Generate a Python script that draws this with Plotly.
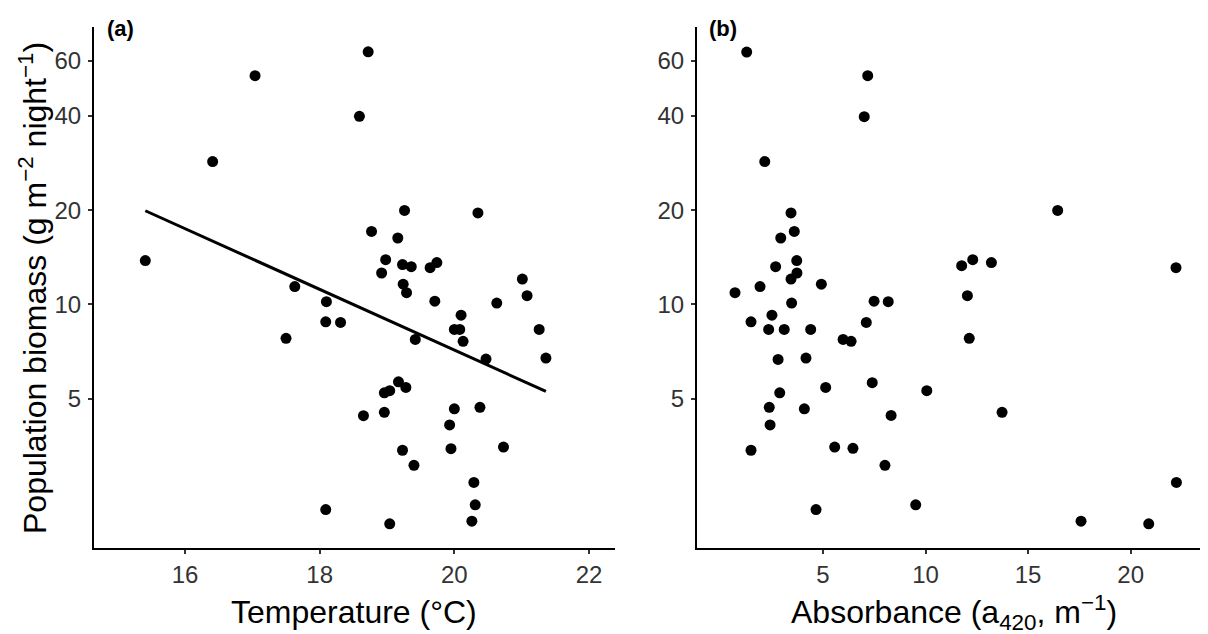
import plotly.graph_objects as go
from plotly.subplots import make_subplots

# ---- data ----
temperature = [15.41, 16.41, 17.04, 17.63, 17.50, 18.72, 18.59, 19.26, 20.35, 18.77,
               19.16, 18.98, 19.23, 19.36, 19.64, 19.74, 18.92, 21.01, 21.08, 19.24,
               19.29, 18.10, 19.71, 20.63, 20.10, 18.09, 18.31, 20.00, 20.08, 21.26,
               19.42, 20.13, 20.47, 21.36, 19.17, 19.28, 18.96, 19.04, 20.00, 20.38,
               18.65, 18.96, 19.93, 19.95, 20.73, 19.23, 19.40, 20.29, 20.31, 18.09,
               20.26, 19.04]
biomass_a = [13.8, 28.6, 53.8, 11.4, 7.79, 64.1, 39.9, 19.97, 19.6, 17.1,
             16.3, 13.9, 13.4, 13.2, 13.1, 13.6, 12.6, 12.05, 10.66, 11.6,
             10.9, 10.2, 10.24, 10.1, 9.24, 8.80, 8.76, 8.32, 8.32, 8.32,
             7.73, 7.62, 6.69, 6.74, 5.66, 5.43, 5.22, 5.30, 4.64, 4.69,
             4.41, 4.52, 4.12, 3.46, 3.50, 3.42, 3.06, 2.70, 2.29, 2.21,
             2.03, 1.99]

absorbance = [1.28, 7.18, 7.01, 2.16, 3.44, 3.60, 2.94, 3.72, 2.69, 3.73,
              3.44, 4.92, 0.71, 1.93, 3.47, 7.49, 8.18, 1.49, 2.51, 2.35,
              3.11, 4.40, 7.11, 5.98, 6.37, 2.81, 4.17, 7.40, 5.13, 2.89,
              2.38, 4.09, 8.32, 2.42, 1.49, 5.57, 6.46, 8.02, 4.66, 9.52,
              16.44, 11.76, 12.30, 13.21, 22.21, 12.04, 12.13, 10.06, 13.73, 22.23,
              17.58, 20.88]
biomass_b = [64.0, 53.8, 39.8, 28.6, 19.6, 17.1, 16.3, 13.8, 13.2, 12.6,
             12.05, 11.6, 10.9, 11.4, 10.1, 10.24, 10.2, 8.80, 9.24, 8.32,
             8.32, 8.32, 8.76, 7.73, 7.62, 6.67, 6.74, 5.62, 5.43, 5.22,
             4.69, 4.64, 4.42, 4.12, 3.42, 3.50, 3.47, 3.06, 2.21, 2.29,
             19.97, 13.3, 13.9, 13.6, 13.1, 10.66, 7.79, 5.30, 4.52, 2.70,
             2.03, 1.99]

# fitted line (log10 biomass ~ temperature)
fit_intercept = 2.794
fit_slope = -0.0970

y_ticks = [5, 10, 20, 40, 60]
x_ticks_a = [16, 18, 20, 22]
x_ticks_b = [5, 10, 15, 20]

# ---- figure ----
OFF = 8  # default page body margin
W, H = 1208 - OFF, 634 - OFF
ML, MR, MT, MB = 94 - OFF, 0, 27 - OFF, 86
PW, PH = W - ML - MR, H - MT - MB


def px(xpix):
    return (xpix - OFF - ML) / PW


def py(ypix):
    return (H - MB - (ypix - OFF)) / PH


fig = make_subplots(rows=1, cols=2)

fig.add_trace(go.Scatter(x=temperature, y=biomass_a, mode="markers",
                         marker=dict(color="black", size=11), showlegend=False,
                         cliponaxis=False), row=1, col=1)

t0, t1 = min(temperature), max(temperature)
fit_x = [t0, t1]
fit_y = [10 ** (fit_intercept + fit_slope * t) for t in fit_x]
fig.add_trace(go.Scatter(x=fit_x, y=fit_y, mode="lines",
                         line=dict(color="black", width=3), showlegend=False),
              row=1, col=1)

fig.add_trace(go.Scatter(x=absorbance, y=biomass_b, mode="markers",
                         marker=dict(color="black", size=11), showlegend=False,
                         cliponaxis=False), row=1, col=2)

FONT = "Arial, Liberation Sans, sans-serif"
axis_common = dict(showline=True, linecolor="black", linewidth=2, showgrid=False,
                   zeroline=False, ticks="outside", ticklen=4, tickwidth=1.5,
                   tickcolor="#333333", automargin=False,
                   tickfont=dict(family=FONT, size=24, color="#333333"))

fig.update_xaxes(**axis_common)
fig.update_yaxes(**axis_common)

fig.update_layout(
    width=W, height=H,
    margin=dict(l=ML, r=MR, t=MT, b=MB, pad=0),
    paper_bgcolor="white", plot_bgcolor="white",
    xaxis=dict(domain=[0, px(615)], range=[14.648, 22.386], tickvals=x_ticks_a,
               ticktext=[str(v) for v in x_ticks_a]),
    xaxis2=dict(domain=[px(697), 1.0], range=[-1.143, 23.77], tickvals=x_ticks_b,
                ticktext=[str(v) for v in x_ticks_b]),
    yaxis=dict(type="log", range=[0.2217, 1.8863], tickvals=y_ticks,
               ticktext=[str(v) for v in y_ticks], ticklabelstandoff=2),
    yaxis2=dict(type="log", range=[0.2217, 1.8863], tickvals=y_ticks,
                ticktext=[str(v) for v in y_ticks], ticklabelstandoff=2),
    font=dict(family=FONT, color="black"),
)

annotations = [
    dict(text="Population biomass (g m<sup>\u22122</sup> night<sup>\u22121</sup>)",
         x=px(33), y=py(288), textangle=-90, font=dict(size=32)),
    dict(text="Temperature (\u00b0C)", x=px(354), y=py(612), font=dict(size=32)),
    dict(text="Absorbance (a<sub>420</sub>, m<sup>\u22121</sup>)", x=px(954), y=py(612),
         font=dict(size=32)),
    dict(text="<b>(a)</b>", x=px(120), y=py(28), font=dict(size=22)),
    dict(text="<b>(b)</b>", x=px(723), y=py(28), font=dict(size=22)),
]
for a in annotations:
    a.update(xref="paper", yref="paper", showarrow=False, xanchor="center",
             yanchor="middle")
    a["font"].update(family=FONT, color="black")
fig.update_layout(annotations=annotations)

fig.write_html("out.html")
